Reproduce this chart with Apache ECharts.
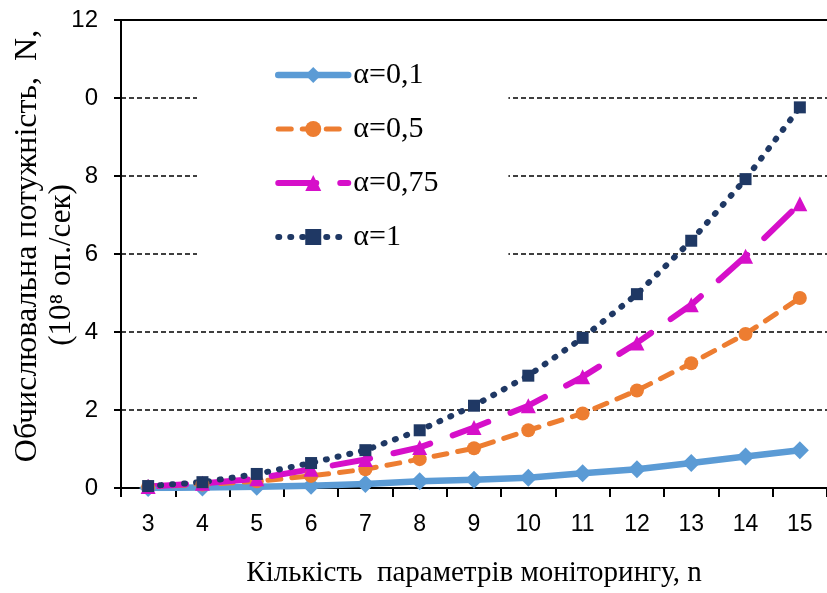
<!DOCTYPE html>
<html>
<head>
<meta charset="utf-8">
<script src="https://cdn.jsdelivr.net/npm/echarts@6/dist/echarts.min.js"></script>
<style>
  html, body { margin: 0; padding: 0; background: #fff; }
  #chart { width: 827px; height: 593px; }
</style>
</head>
<body>
<div id="chart"></div>
<script>
// Number of monitored parameters n
const categories = ['3', '4', '5', '6', '7', '8', '9', '10', '11', '12', '13', '14', '15'];

// Computing power N, 10^8 op./sec, for each alpha
const alpha01  = [0.00, 0.01, 0.03, 0.06, 0.10, 0.17, 0.21, 0.26, 0.38, 0.48, 0.64, 0.81, 0.97];
const alpha05  = [0.03, 0.09, 0.17, 0.31, 0.48, 0.74, 1.02, 1.48, 1.91, 2.50, 3.20, 3.95, 4.87];
const alpha075 = [0.04, 0.12, 0.24, 0.48, 0.73, 1.04, 1.55, 2.11, 2.85, 3.72, 4.70, 5.94, 7.29];
const alpha1   = [0.05, 0.15, 0.36, 0.64, 0.97, 1.48, 2.11, 2.88, 3.85, 4.97, 6.34, 7.92, 9.76];

const seriesNames = ['α=0,1', 'α=0,5', 'α=0,75', 'α=1'];

// Y tick labels as printed on the axis
const yTickLabels = ['0', '2', '4', '6', '8', '0', '12'];

const serif = '"Liberation Serif", "Times New Roman", serif';
const sans = '"Liberation Sans", Arial, sans-serif';

const colors = ['#5B9BD5', '#ED7D31', '#D60FC9', '#1F3864'];
const lineStyles = [
  { color: colors[0], width: 6.5, cap: 'round', join: 'round' },
  { color: colors[1], width: 5, type: [13, 11], cap: 'round' },
  { color: colors[2], width: 6, type: [38, 24], cap: 'round' },
  { color: colors[3], width: 6, type: [1, 11], cap: 'round' }
];

const chart = echarts.init(document.getElementById('chart'), null, { renderer: 'canvas' });

chart.setOption({
  animation: false,
  backgroundColor: '#fff',
  grid: { left: 121, top: 20, right: -6, bottom: 102, containLabel: false },
  xAxis: [{
    type: 'category',
    data: categories,
    boundaryGap: true,
    axisLine: { lineStyle: { color: '#000', width: 2 } },
    axisTick: { show: true, alignWithLabel: false, length: 9, lineStyle: { color: '#000', width: 2 } },
    axisLabel: { color: '#000', fontFamily: sans, fontSize: 23, margin: 25 },
    splitLine: { show: false },
    name: 'Кількість  параметрів моніторингу, n',
    nameLocation: 'middle',
    nameGap: 71,
    nameTextStyle: { color: '#000', fontFamily: serif, fontSize: 29 }
  }, {
    // top frame line of the plot area
    type: 'category',
    data: categories,
    position: 'top',
    axisLine: { show: true, lineStyle: { color: '#000', width: 2 } },
    axisTick: { show: false },
    axisLabel: { show: false },
    splitLine: { show: false }
  }],
  yAxis: {
    type: 'value',
    min: 0,
    max: 12,
    interval: 2,
    axisLine: { show: true, lineStyle: { color: '#000', width: 2 } },
    axisTick: { show: true, length: 7, lineStyle: { color: '#000', width: 2 } },
    axisLabel: {
      color: '#000', fontFamily: sans, fontSize: 24, margin: 23,
      formatter: function (v) { return yTickLabels[Math.round(v / 2)]; }
    },
    splitLine: { show: true, lineStyle: { color: '#000', width: 1.5, type: [5, 3] } }
  },
  legend: {
    orient: 'vertical',
    left: 197,
    top: 40,
    padding: [20, 70, 20, 78],
    backgroundColor: '#fff',
    itemWidth: 70,
    itemHeight: 20,
    itemGap: 24,
    z: 10,
    data: seriesNames.map(function (n, i) {
      return { name: n, lineStyle: lineStyles[i] };
    }),
    textStyle: { color: '#000', fontFamily: serif, fontSize: 30, lineHeight: 30 }
  },
  graphic: [
    {
      type: 'text', x: 28, y: 246, rotation: Math.PI / 2,
      style: { text: 'Обчислювальна потужність,  N,', font: '32px ' + serif, fill: '#000', textAlign: 'center', textVerticalAlign: 'middle' }
    },
    {
      type: 'text', x: 62, y: 265, rotation: Math.PI / 2,
      style: { text: '(10⁸ оп./сек)', font: '31px ' + serif, fill: '#000', textAlign: 'center', textVerticalAlign: 'middle' }
    }
  ],
  series: [
    {
      name: seriesNames[0], type: 'line', data: alpha01,
      symbol: 'diamond', symbolSize: 18,
      itemStyle: { color: colors[0] },
      lineStyle: lineStyles[0]
    },
    {
      name: seriesNames[1], type: 'line', data: alpha05,
      symbol: 'circle', symbolSize: 14,
      itemStyle: { color: colors[1] },
      lineStyle: lineStyles[1]
    },
    {
      name: seriesNames[2], type: 'line', data: alpha075,
      symbol: 'triangle', symbolSize: 15,
      itemStyle: { color: colors[2] },
      lineStyle: lineStyles[2]
    },
    {
      name: seriesNames[3], type: 'line', data: alpha1,
      symbol: 'rect', symbolSize: 12,
      itemStyle: { color: colors[3] },
      lineStyle: lineStyles[3]
    }
  ]
});
</script>
</body>
</html>
